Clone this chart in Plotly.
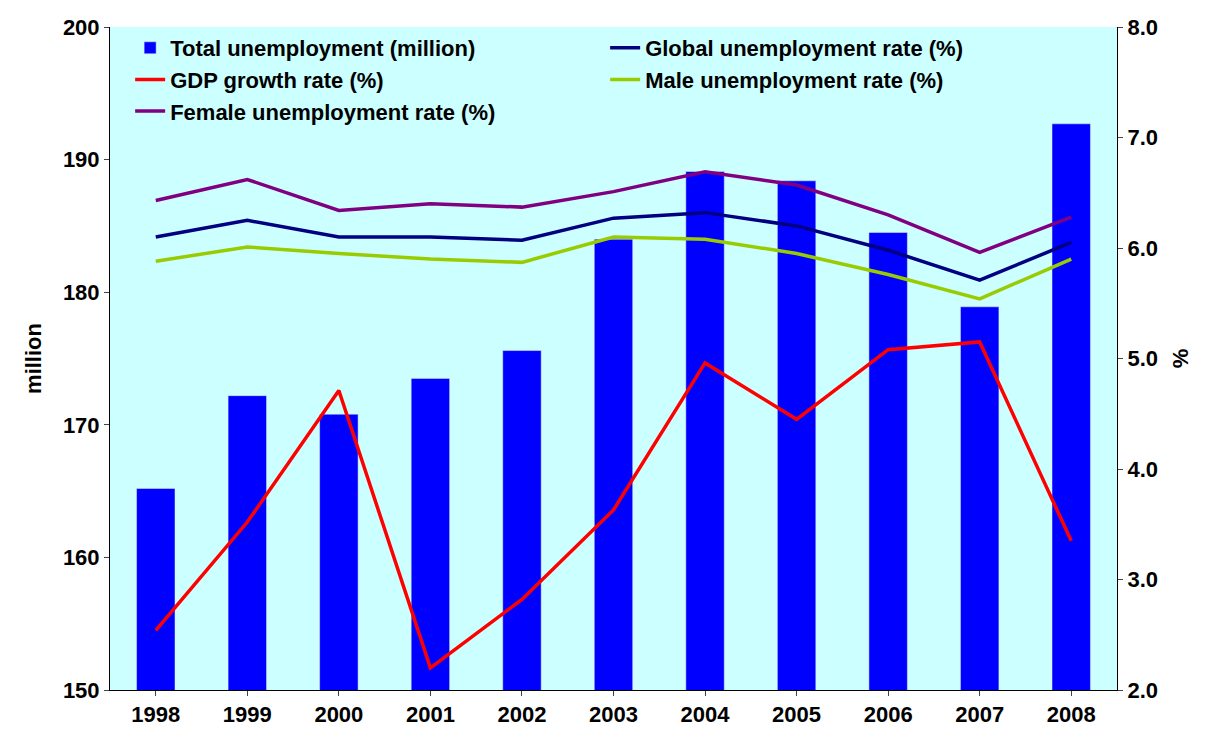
import plotly.graph_objects as go

years = ["1998","1999","2000","2001","2002","2003","2004","2005","2006","2007","2008"]
total = [165.2,172.2,170.8,173.5,175.6,184.0,189.1,188.4,184.5,178.9,192.7]
gdp = [2.54,3.52,4.71,2.20,2.82,3.63,4.96,4.45,5.08,5.15,3.35]
global_rate = [6.10,6.25,6.10,6.10,6.07,6.27,6.32,6.20,5.98,5.71,6.05]
male = [5.88,6.01,5.95,5.90,5.87,6.10,6.08,5.95,5.76,5.54,5.90]
female = [6.43,6.62,6.34,6.40,6.37,6.51,6.69,6.57,6.30,5.96,6.28]

fig = go.Figure()
fig.add_trace(go.Bar(x=years, y=total, name="Total unemployment (million)", marker_color="#0000FF", width=0.42))
fig.add_trace(go.Scatter(x=years, y=global_rate, name="Global unemployment rate (%)", yaxis="y2", mode="lines", line=dict(color="#000080", width=3.5)))
fig.add_trace(go.Scatter(x=years, y=gdp, name="GDP growth rate (%)", yaxis="y2", mode="lines", line=dict(color="#FF0000", width=3.5)))
fig.add_trace(go.Scatter(x=years, y=male, name="Male unemployment rate (%)", yaxis="y2", mode="lines", line=dict(color="#99CC00", width=3.5)))
fig.add_trace(go.Scatter(x=years, y=female, name="Female unemployment rate (%)", yaxis="y2", mode="lines", line=dict(color="#800080", width=3.5)))

F = "Liberation Sans, Arial"
fig.update_layout(
    width=1209, height=742, margin=dict(l=102, r=100, t=19, b=60, autoexpand=False),
    paper_bgcolor="white", plot_bgcolor="#CCFFFF", font=dict(family=F, size=22, color="black"), showlegend=True,
    legend=dict(orientation="h", x=0.02, y=1.0, xanchor="left", yanchor="top", entrywidth=430,
                bgcolor="rgba(0,0,0,0)", font=dict(family=F, size=22), tracegroupgap=0),
    xaxis=dict(showline=True, linecolor="black", ticks="outside", tickfont=dict(size=22), showgrid=False),
    yaxis=dict(range=[150,200], dtick=10, title=dict(text="<b>million</b>", font=dict(size=22)), showline=True, linecolor="black",
               ticks="outside", showgrid=False, zeroline=False, tickfont=dict(size=22), automargin=False),
    yaxis2=dict(range=[2,8], dtick=1, tickformat=".1f", overlaying="y", side="right", showline=True, linecolor="black",
                ticks="outside", showgrid=False, zeroline=False, title=dict(text="<b>%</b>", font=dict(size=22)),
                tickfont=dict(size=22), automargin=False),
)
fig.update_xaxes(tickprefix="<b>", ticksuffix="</b>", automargin=False)
fig.update_yaxes(tickprefix="<b>", ticksuffix="</b>")
for t in fig.data:
    t.name = "<b>" + t.name + "</b>"
fig.write_html("out.html")
